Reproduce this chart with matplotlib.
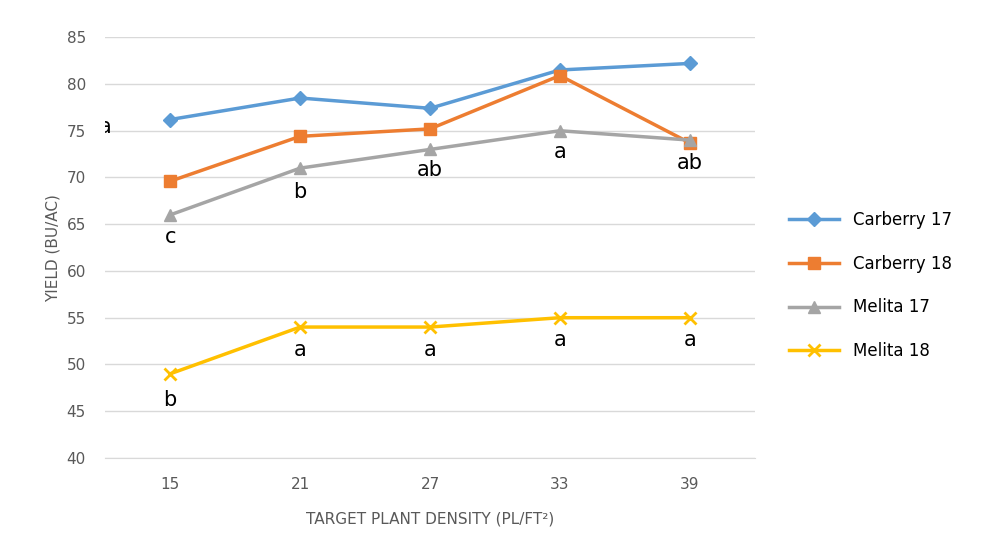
import matplotlib.pyplot as plt

density = ["15", "21", "27", "33", "39"]
carberry17 = [76.2, 78.5, 77.4, 81.5, 82.2]
carberry18 = [69.6, 74.4, 75.2, 80.9, 73.7]
melita17 = [66, 71, 73, 75, 74]
melita18 = [49, 54, 54, 55, 55]

# letras de significancia
letras17 = ["c", "b", "ab", "a", "ab"]
letras17_y = [63.6, 68.4, 70.8, 72.7, 71.6]
letras18 = ["b", "a", "a", "a", "a"]
letras18_y = [46.2, 51.5, 51.5, 52.6, 52.6]

fig = plt.figure(figsize=(9.84, 5.4), dpi=100)
ax = fig.add_axes([0.107, 0.152, 0.66, 0.779])
x = range(len(density))

ax.plot(x, carberry17, color="#5B9BD5", marker="D", ms=7, lw=2.5, label="Carberry 17")
ax.plot(x, carberry18, color="#ED7D31", marker="s", ms=9, lw=2.5, label="Carberry 18")
ax.plot(x, melita17, color="#A5A5A5", marker="^", ms=9, lw=2.5, label="Melita 17")
ax.plot(x, melita18, color="#FFC000", marker="x", ms=9, mew=2, lw=2.5, label="Melita 18")

for i in x:
    ax.text(i, letras17_y[i], letras17[i], ha="center", va="center", fontsize=15)
    ax.text(i, letras18_y[i], letras18[i], ha="center", va="center", fontsize=15)
ax.text(-0.5, 75.4, "a", ha="center", va="center", fontsize=15, clip_on=True)

ax.set_xlim(-0.5, 4.5)
ax.set_ylim(40, 85)
ax.set_yticks(range(40, 86, 5))
ax.set_xticks(list(x))
ax.set_xticklabels(density)
ax.grid(axis="y", color="#D9D9D9", lw=1)
ax.set_axisbelow(True)
for s in ["top", "right", "left"]:
    ax.spines[s].set_visible(False)
ax.spines["bottom"].set_color("#D9D9D9")
ax.tick_params(length=0, labelsize=11, colors="#595959", pad=14)
ax.set_xlabel("TARGET PLANT DENSITY (PL/FT²)", fontsize=11, color="#595959", labelpad=14)
ax.set_ylabel("YIELD (BU/AC)", fontsize=11, color="#595959")

ax.legend(loc="center left", bbox_to_anchor=(1.03, 0.41), frameon=False,
          fontsize=12, labelspacing=1.55, handlelength=3)

fig.savefig("out.png", dpi=100)
